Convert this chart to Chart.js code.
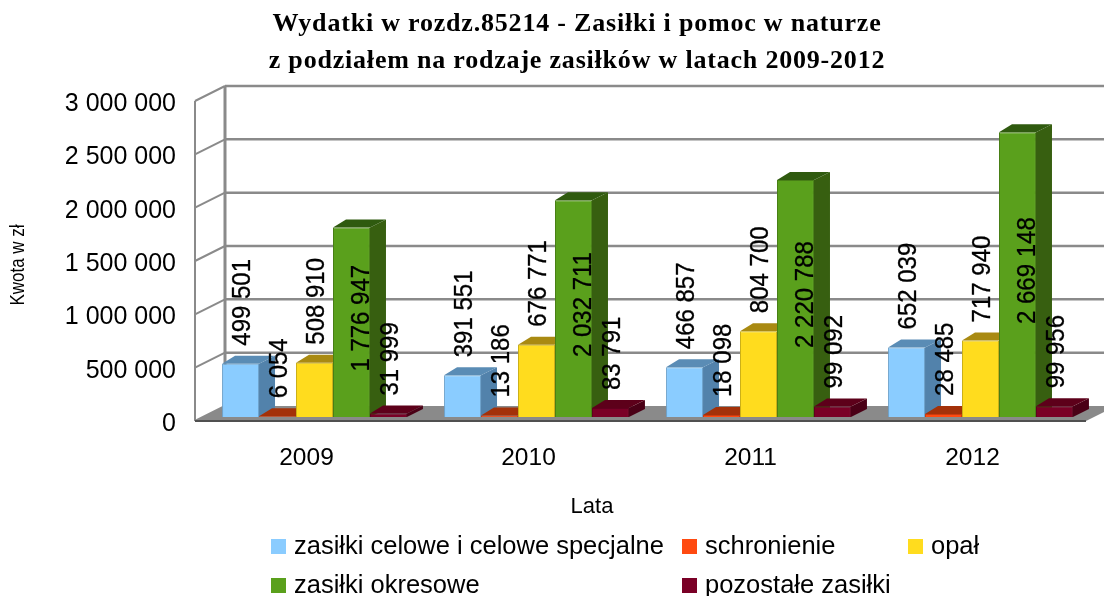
<!DOCTYPE html>
<html>
<head>
<meta charset="utf-8">
<style>
    html, body { margin: 0; padding: 0; background: #fff; }
    canvas { display: block; filter: blur(0.5px); }
</style>
<script src="https://cdn.jsdelivr.net/npm/chart.js@4"></script>
</head>
<body>
<canvas id="barChart" width="1104" height="596"></canvas>
<script>
const years = ['2009', '2010', '2011', '2012'];
const celowe = [499501, 391551, 466857, 652039];
const schronienie = [6054, 13186, 18098, 28485];
const opal = [508910, 676771, 804700, 717940];
const okresowe = [1776947, 2032711, 2220788, 2669148];
const pozostale = [31999, 83791, 99092, 99956];
const titleLines = ['Wydatki w rozdz.85214 - Zasiłki i pomoc w naturze', 'z podziałem na rodzaje zasiłków w latach 2009-2012'];

const sans = "'Liberation Sans', Arial, sans-serif";
const formatValue = v => String(v).replace(/\B(?=(\d{3})+$)/g, ' ');

// bar depth in px
const depthX = 16;
const depthY = 8;
const gridColor = '#8a8a8a';

function polygon(ctx, pts, fill) {
    ctx.beginPath();
    ctx.moveTo(pts[0][0], pts[0][1]);
    pts.slice(1).forEach(p => ctx.lineTo(p[0], p[1]));
    ctx.closePath();
    ctx.fillStyle = fill;
    ctx.fill();
}

const wallsPlugin = {
    id: 'walls',
    // title in the reference is spaced out, canvas only does that through letterSpacing
    afterInit(chart) {
        const block = chart.titleBlock;
        const drawTitle = block.draw.bind(block);
        block.draw = function () {
            chart.ctx.save();
            chart.ctx.letterSpacing = '0.8px';
            drawTitle();
            chart.ctx.restore();
        };
    },
    // walls, floor and grid behind the bars
    beforeDatasetsDraw(chart) {
        const ctx = chart.ctx;
        const y = chart.scales.y;
        const frontX = 195, backX = 225, right = 1104;
        ctx.save();
        ctx.strokeStyle = gridColor;
        y.ticks.forEach(t => {
            const py = y.getPixelForValue(t.value);
            ctx.lineWidth = 2.5;
            if (t.value > 0) {
                ctx.beginPath();
                ctx.moveTo(backX, py - 11);
                ctx.lineTo(right, py - 11);
                ctx.stroke();
            }
            ctx.lineWidth = 2;
            ctx.beginPath();
            ctx.moveTo(frontX, py + 4);
            ctx.lineTo(backX, py - 11);
            ctx.stroke();
        });
        const zero = y.getPixelForValue(0);
        const top = y.getPixelForValue(3000000);
        ctx.lineWidth = 3;
        ctx.beginPath();
        ctx.moveTo(backX, top - 11);
        ctx.lineTo(backX, zero - 11);
        ctx.stroke();
        ctx.lineWidth = 2;
        ctx.beginPath();
        ctx.moveTo(frontX, top + 4);
        ctx.lineTo(frontX, zero + 4);
        ctx.stroke();
        polygon(ctx, [[frontX, zero + 4], [1086, zero + 4], [1116, zero - 11], [backX, zero - 11]], '#8a8a8a');
        ctx.strokeStyle = '#505050';
        ctx.lineWidth = 2;
        ctx.beginPath();
        ctx.moveTo(frontX, zero + 4);
        ctx.lineTo(1086, zero + 4);
        ctx.stroke();
        ctx.restore();
    },
    // the library paints the last dataset first, the 3D look needs left to right
    beforeDatasetDraw() {
        return false;
    },
    afterDatasetsDraw(chart) {
        const ctx = chart.ctx;
        ctx.save();
        chart.data.datasets.forEach((ds, i) => {
            chart.getDatasetMeta(i).data.forEach(bar => {
                const l = bar.x - bar.width / 2;
                const r = bar.x + bar.width / 2;
                polygon(ctx, [[r, bar.y], [r + depthX, bar.y - depthY], [r + depthX, bar.base - depthY], [r, bar.base]], ds.sideColor);
                polygon(ctx, [[l, bar.y], [l + depthX - 3, bar.y - depthY], [r + depthX, bar.y - depthY], [r, bar.y]], ds.topColor);
                bar.draw(ctx);
            });
        });
        ctx.fillStyle = '#000';
        ctx.strokeStyle = '#000';
        ctx.lineWidth = 0.3;
        ctx.font = '24px ' + sans;
        ctx.textBaseline = 'middle';
        chart.data.datasets.forEach((ds, i) => {
            chart.getDatasetMeta(i).data.forEach((bar, j) => {
                const text = formatValue(ds.data[j]);
                ctx.save();
                if (ds.labelInside) {
                    ctx.textAlign = 'center';
                    ctx.translate(bar.x + 10, (bar.y + bar.base) / 2 - 4);
                } else {
                    ctx.textAlign = 'left';
                    ctx.translate(bar.x + 2, bar.y - 18);
                }
                ctx.rotate(-Math.PI / 2);
                // the picture is stretched sideways, so upright text comes out wider
                ctx.scale(1, 1.1);
                ctx.fillText(text, 0, 0);
                ctx.strokeText(text, 0, 0);
                ctx.restore();
            });
        });
        // axis titles
        ctx.textAlign = 'center';
        ctx.font = '22px ' + sans;
        ctx.fillText('Lata', 592, 507);
        ctx.save();
        ctx.font = '17px ' + sans;
        ctx.translate(18, 265);
        ctx.rotate(-Math.PI / 2);
        ctx.scale(1, 1.2);
        ctx.fillText('Kwota w zł', 0, 0);
        ctx.restore();
        // legend in three columns
        const slots = [[271, 547], [682, 547], [908, 547], [271, 586], [682, 586]];
        ctx.font = '25.5px ' + sans;
        ctx.textAlign = 'left';
        chart.data.datasets.forEach((ds, i) => {
            const s = slots[i];
            ctx.fillStyle = ds.backgroundColor;
            ctx.fillRect(s[0], s[1] - 8, 15, 15);
            ctx.fillStyle = '#000';
            ctx.fillText(ds.label, s[0] + 23, s[1]);
        });
        ctx.restore();
    }
};

const ctx = document.getElementById('barChart').getContext('2d');
new Chart(ctx, {
    type: 'bar',
    data: {
        labels: years,
        datasets: [
            { label: 'zasiłki celowe i celowe specjalne', data: celowe, backgroundColor: '#8accff', borderColor: '#6ea3cc', sideColor: '#5282ab', topColor: '#5a8cb5' },
            { label: 'schronienie', data: schronienie, backgroundColor: '#ff4a10', borderColor: '#cc3b0d', sideColor: '#8f2c09', topColor: '#a33109' },
            { label: 'opał', data: opal, backgroundColor: '#ffdc1e', borderColor: '#ccb018', sideColor: '#94790f', topColor: '#a98a12' },
            { label: 'zasiłki okresowe', data: okresowe, labelInside: true, backgroundColor: '#5aa01c', borderColor: '#487f16', sideColor: '#375f10', topColor: '#2f5a0f' },
            { label: 'pozostałe zasiłki', data: pozostale, backgroundColor: '#7a0026', borderColor: '#61001e', sideColor: '#4a0016', topColor: '#5d001a' }
        ]
    },
    options: {
        responsive: false,
        animation: false,
        layout: { padding: { left: 62.5, right: 12.5, top: 0, bottom: 119 } },
        datasets: { bar: { categoryPercentage: 0.833, barPercentage: 1, borderWidth: 1 } },
        plugins: {
            legend: { display: false },
            tooltip: { enabled: false },
            title: {
                display: true,
                text: titleLines,
                color: '#000',
                padding: { top: 5.5, bottom: 17.5 },
                font: { family: "'Liberation Serif', serif", size: 26, weight: 'bold', lineHeight: 37 / 26 }
            }
        },
        scales: {
            x: {
                grid: { display: false },
                border: { display: false },
                afterFit(s) { s.height = 60; },
                ticks: { color: '#000', padding: 19, labelOffset: -8, maxRotation: 0, font: { family: sans, size: 24.5 } }
            },
            y: {
                min: 0,
                max: 3000000,
                grid: { display: false },
                border: { display: false },
                afterFit(s) { s.width = 141; },
                ticks: { color: '#000', stepSize: 500000, padding: 19.5, labelOffset: 7, callback: v => formatValue(v), font: { family: sans, size: 25 } }
            }
        }
    },
    plugins: [wallsPlugin]
});
</script>
</body>
</html>
